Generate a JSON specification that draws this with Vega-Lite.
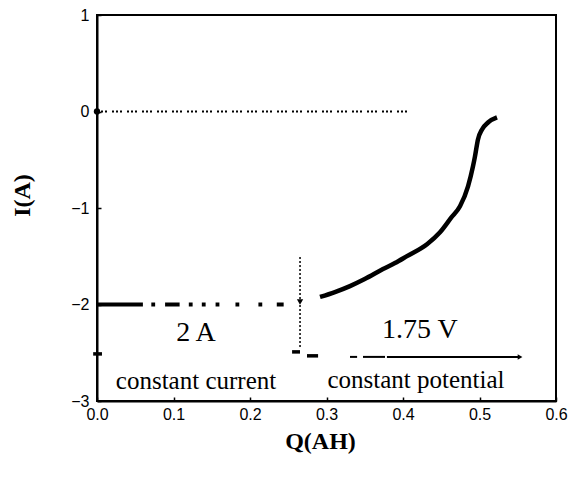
{
  "$schema": "https://vega.github.io/schema/vega-lite/v6.json",
  "width": 459,
  "height": 386,
  "autosize": "none",
  "padding": {"left": 97, "top": 15, "right": 14, "bottom": 80},
  "background": "white",
  "config": {
    "view": {"stroke": "black", "strokeWidth": 2},
    "axis": {
      "domainColor": "black",
      "domainWidth": 2,
      "tickColor": "black",
      "tickWidth": 1.5,
      "tickSize": -4,
      "grid": false,
      "labelFlush": false,
      "labelFont": "Liberation Sans",
      "labelFontSize": 16,
      "labelColor": "black",
      "titleFont": "Liberation Serif",
      "titleFontWeight": "bold",
      "titleFontSize": 24,
      "titleColor": "black"
    }
  },
  "datasets": {
    "cc": [
      {"q1": 0, "q2": 0.060, "i": -2},
      {"q1": 0.071, "q2": 0.076, "i": -2},
      {"q1": 0.089, "q2": 0.108, "i": -2},
      {"q1": 0.120, "q2": 0.125, "i": -2},
      {"q1": 0.137, "q2": 0.142, "i": -2},
      {"q1": 0.155, "q2": 0.160, "i": -2},
      {"q1": 0.181, "q2": 0.186, "i": -2},
      {"q1": 0.211, "q2": 0.216, "i": -2},
      {"q1": 0.235, "q2": 0.244, "i": -2}
    ],
    "cp": [
      {"q": 0.2915, "i": -1.922},
      {"q": 0.311, "i": -1.871},
      {"q": 0.3307, "i": -1.809},
      {"q": 0.350, "i": -1.736},
      {"q": 0.3739, "i": -1.633},
      {"q": 0.3895, "i": -1.571},
      {"q": 0.4052, "i": -1.499},
      {"q": 0.4314, "i": -1.375},
      {"q": 0.4484, "i": -1.251},
      {"q": 0.463, "i": -1.10},
      {"q": 0.4745, "i": -0.982},
      {"q": 0.4850, "i": -0.775},
      {"q": 0.4915, "i": -0.568},
      {"q": 0.4941, "i": -0.465},
      {"q": 0.4980, "i": -0.289},
      {"q": 0.5033, "i": -0.186},
      {"q": 0.5111, "i": -0.114},
      {"q": 0.5229, "i": -0.062}
    ],
    "zero": [{"q1": 0, "q2": 0.41, "i": 0}],
    "vert": [{"q": 0.2654, "i1": -1.509, "i2": -2.46}],
    "arrow": [
      {"q1": 0.3307, "q2": 0.340, "i": -2.543},
      {"q1": 0.3477, "q2": 0.3765, "i": -2.543},
      {"q1": 0.379, "q2": 0.553, "i": -2.543}
    ],
    "ticksmall": [
      {"q1": -0.005, "q2": 0.0065, "i": -2.512},
      {"q1": 0.255, "q2": 0.2654, "i": -2.491},
      {"q1": 0.2745, "q2": 0.289, "i": -2.532}
    ],
    "labels": [
      {"text": "2 A", "q": 0.1294, "i": -2.295, "kind": "big"},
      {"text": "1.75 V", "q": 0.4222, "i": -2.264, "kind": "big"},
      {"text": "constant current", "q": 0.1294, "i": -2.791, "kind": "small"},
      {"text": "constant potential", "q": 0.417, "i": -2.780, "kind": "small"}
    ]
  },
  "layer": [
    {
      "data": {"name": "zero"},
      "mark": {"type": "rule", "strokeWidth": 2, "strokeDash": [2, 2, 2, 2, 2, 5], "color": "black"},
      "encoding": {
        "x": {"field": "q1", "type": "quantitative", "scale": {"domain": [0, 0.6], "nice": false},
          "axis": {"values": [0, 0.1, 0.2, 0.3, 0.4, 0.5, 0.6], "format": ".1f", "title": "Q(AH)", "labelPadding": 9, "titleX": 223, "titleY": 40, "titleBaseline": "middle"}},
        "x2": {"field": "q2"},
        "y": {"field": "i", "type": "quantitative", "scale": {"domain": [-3, 1], "nice": false},
          "axis": {"values": [-3, -2, -1, 0, 1], "format": "d", "title": "I(A)", "labelPadding": 12, "titleX": -75, "titleY": 180, "titleBaseline": "middle"}}
      }
    },
    {
      "data": {"name": "cc"},
      "mark": {"type": "rule", "strokeWidth": 4, "color": "black"},
      "encoding": {
        "x": {"field": "q1", "type": "quantitative"},
        "x2": {"field": "q2"},
        "y": {"field": "i", "type": "quantitative"}
      }
    },
    {
      "data": {"name": "cp"},
      "mark": {"type": "line", "strokeWidth": 4.5, "color": "black", "interpolate": "monotone"},
      "encoding": {
        "x": {"field": "q", "type": "quantitative"},
        "y": {"field": "i", "type": "quantitative"}
      }
    },
    {
      "data": {"name": "vert"},
      "mark": {"type": "rule", "strokeWidth": 1.5, "strokeDash": [2, 2], "color": "black"},
      "encoding": {
        "x": {"field": "q", "type": "quantitative"},
        "y": {"field": "i1", "type": "quantitative"},
        "y2": {"field": "i2"}
      }
    },
    {
      "data": {"name": "arrow"},
      "mark": {"type": "rule", "strokeWidth": 2, "color": "black"},
      "encoding": {
        "x": {"field": "q1", "type": "quantitative"},
        "x2": {"field": "q2"},
        "y": {"field": "i", "type": "quantitative"}
      }
    },
    {
      "data": {"name": "ticksmall"},
      "mark": {"type": "rule", "strokeWidth": 3.5, "color": "black"},
      "encoding": {
        "x": {"field": "q1", "type": "quantitative"},
        "x2": {"field": "q2"},
        "y": {"field": "i", "type": "quantitative"}
      }
    },
    {
      "data": {"values": [{"q": 0.553, "i": -2.543}]},
      "mark": {"type": "point", "shape": "triangle-right", "filled": true, "size": 30, "color": "black", "opacity": 1},
      "encoding": {
        "x": {"field": "q", "type": "quantitative"},
        "y": {"field": "i", "type": "quantitative"}
      }
    },
    {
      "data": {"values": [{"q": 0.2654, "i": -1.974}]},
      "mark": {"type": "point", "shape": "triangle-down", "filled": true, "size": 40, "color": "black", "opacity": 1},
      "encoding": {
        "x": {"field": "q", "type": "quantitative"},
        "y": {"field": "i", "type": "quantitative"}
      }
    },
    {
      "data": {"values": [{"q": 0, "i": 0}]},
      "mark": {"type": "point", "shape": "circle", "filled": true, "size": 40, "color": "black", "opacity": 1},
      "encoding": {
        "x": {"field": "q", "type": "quantitative"},
        "y": {"field": "i", "type": "quantitative"}
      }
    },
    {
      "data": {"name": "labels"},
      "transform": [{"filter": "datum.kind === 'big'"}],
      "mark": {"type": "text", "font": "Liberation Serif", "fontSize": 28, "color": "black", "align": "center", "baseline": "middle"},
      "encoding": {
        "x": {"field": "q", "type": "quantitative"},
        "y": {"field": "i", "type": "quantitative"},
        "text": {"field": "text"}
      }
    },
    {
      "data": {"name": "labels"},
      "transform": [{"filter": "datum.kind === 'small'"}],
      "mark": {"type": "text", "font": "Liberation Serif", "fontSize": 25, "color": "black", "align": "center", "baseline": "middle"},
      "encoding": {
        "x": {"field": "q", "type": "quantitative"},
        "y": {"field": "i", "type": "quantitative"},
        "text": {"field": "text"}
      }
    }
  ]
}
